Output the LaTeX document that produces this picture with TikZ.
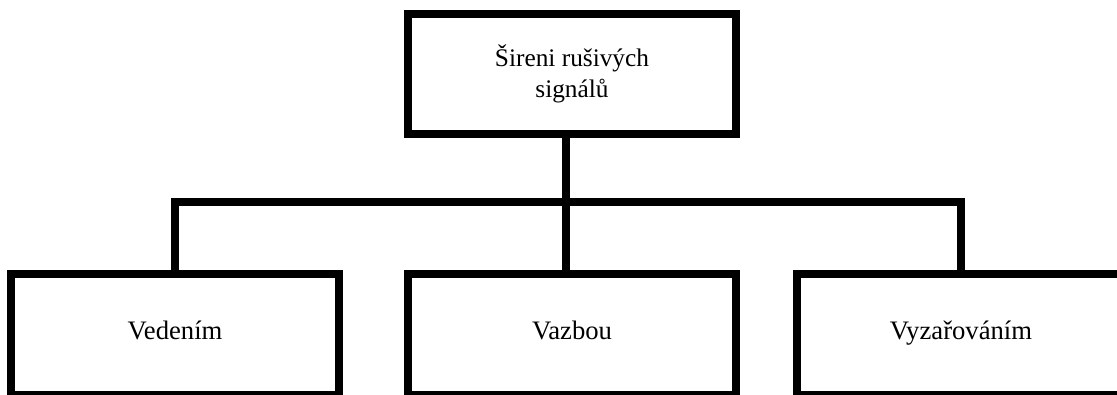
\documentclass[tikz,border=0pt]{standalone}
\usepackage{fontspec}
\setmainfont{Liberation Serif}
\usetikzlibrary{positioning}

\begin{document}
\begin{tikzpicture}[
  x=0.75pt, y=-0.75pt,
  node distance=105pt and 51.75pt,
  box/.style={draw, line width=6.4pt, outer sep=0pt, minimum width=246pt, minimum height=90pt, align=center, font=\fontsize{19}{23.5}\selectfont},
  leaf/.style={box, minimum height=91pt, text height=1.8ex, text depth=0.3ex, font=\fontsize{20}{24}\selectfont},
  link/.style={line width=6.4pt}
]
  \useasboundingbox (0,0) rectangle (1117,394);
  \node[box] (sireni) at (572,74) {Šireni rušivých\\signálů};
  \node[leaf, below=of sireni] (vazbou) {Vazbou};
  \node[leaf, left=of vazbou] (vedenim) {Vedením};
  \node[leaf, right=45.75pt of vazbou] (vyzar) {Vyzařováním};
  \coordinate (bus) at (566,202);

  \draw[link] (sireni.south -| bus) -- (vazbou.north -| bus);
  \draw[link] (vedenim.north) |- (bus) -| (vyzar.north);
\end{tikzpicture}
\end{document}
